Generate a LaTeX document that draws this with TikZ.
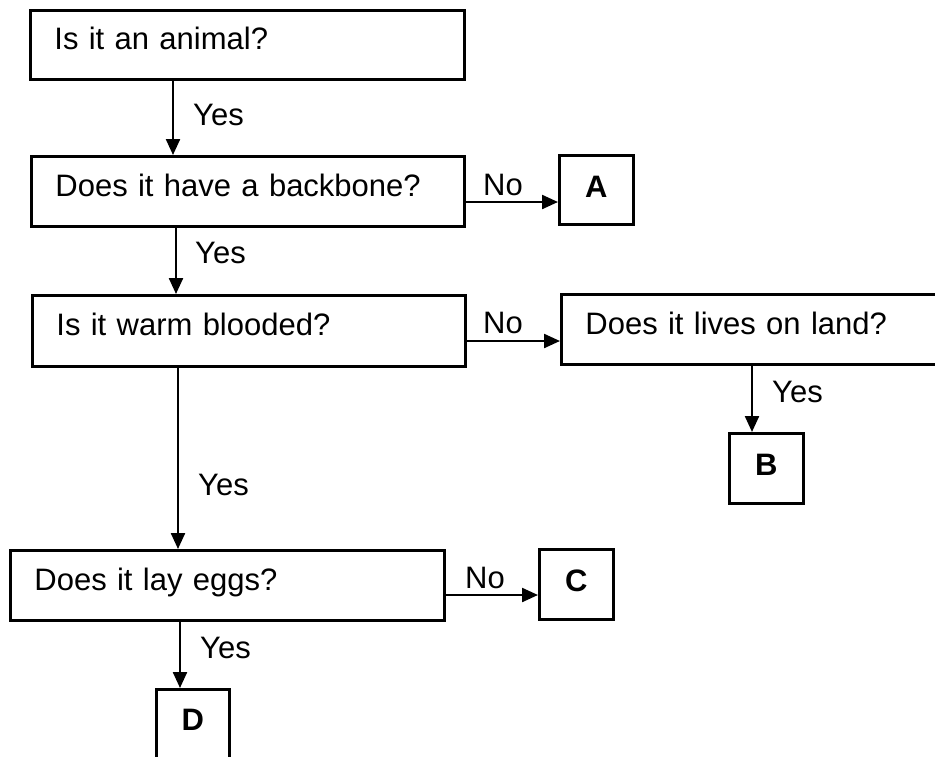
\documentclass[tikz,border=0pt]{standalone}
\usepackage{fontspec}
\setmainfont{Liberation Sans}
\usetikzlibrary{arrows.meta}
\tikzset{
  qbox/.style={draw, line width=2.8pt, rectangle, anchor=north west, inner xsep=24pt, inner ysep=0pt,
    text height=22pt, text depth=12pt, align=left},
  lbox/.style={draw, line width=2.8pt, rectangle, anchor=north west, inner sep=0pt,
    font=\fontsize{31}{36}\selectfont\bfseries, text height=22pt, text depth=7pt},
  lab/.style={inner sep=0pt, anchor=west},
  arr/.style={line width=2.3pt, -{Triangle[length=16pt,width=14pt]}}
}
\begin{document}
\begin{tikzpicture}[x=1pt,y=-1pt, font=\fontsize{31}{36}\selectfont]
\clip (0,0) rectangle (935,756);
\fill[white] (0,0) rectangle (935,756);

% question boxes
\node[qbox, text width=386pt, minimum height=69pt] (b1) at (29,9) {Is it an animal?};
\node[qbox, text width=385pt, minimum height=70pt] (b2) at (30,155) {Does it have a backbone?};
\node[qbox, text width=385pt, minimum height=71pt] (b3) at (31,294) {Is it warm blooded?};
\node[qbox, text width=352pt, minimum height=70pt] (land) at (560,293) {Does it lives on land?};
\node[qbox, text width=386pt, minimum height=70pt] (b4) at (9,549) {Does it lay eggs?};

% answer boxes
\node[lbox, minimum width=74pt, minimum height=69pt] (A) at (558,154) {A};
\node[lbox, minimum width=74pt, minimum height=70pt] (B) at (728,432) {B};
\node[lbox, minimum width=74pt, minimum height=70pt] (C) at (538,548) {C};
\node[lbox, minimum width=73pt, minimum height=74pt, text depth=14pt] (D) at (155,688) {D};

% arrow columns / rows
\coordinate (c1) at (173,0);
\coordinate (c2) at (176,0);
\coordinate (c3) at (178,0);
\coordinate (c4) at (180,0);
\coordinate (c5) at (752,0);
\coordinate (r1) at (0,202);
\coordinate (r2) at (0,341);
\coordinate (r3) at (0,595);

\draw[arr] (b1.south -| c1) -- (b2.north -| c1);
\draw[arr] (b2.south -| c2) -- (b3.north -| c2);
\draw[arr] (b3.south -| c3) -- (b4.north -| c3);
\draw[arr] (b4.south -| c4) -- (D.north -| c4);
\draw[arr] (land.south -| c5) -- (B.north -| c5);
\draw[arr] (b2.east |- r1) -- (A.west |- r1);
\draw[arr] (b3.east |- r2) -- (land.west |- r2);
\draw[arr] (b4.east |- r3) -- (C.west |- r3);

% labels
\node[lab] (y1) at (193,115) {Yes};
\node[lab] (y2) at (195,253) {Yes};
\node[lab] (y3) at (198,485) {Yes};
\node[lab] (y4) at (200,648) {Yes};
\node[lab] (y5) at (772,392) {Yes};
\node[lab] (n1) at (483,185) {No};
\node[lab] (n2) at (483,323) {No};
\node[lab] (n3) at (465,578) {No};
\end{tikzpicture}
\end{document}
